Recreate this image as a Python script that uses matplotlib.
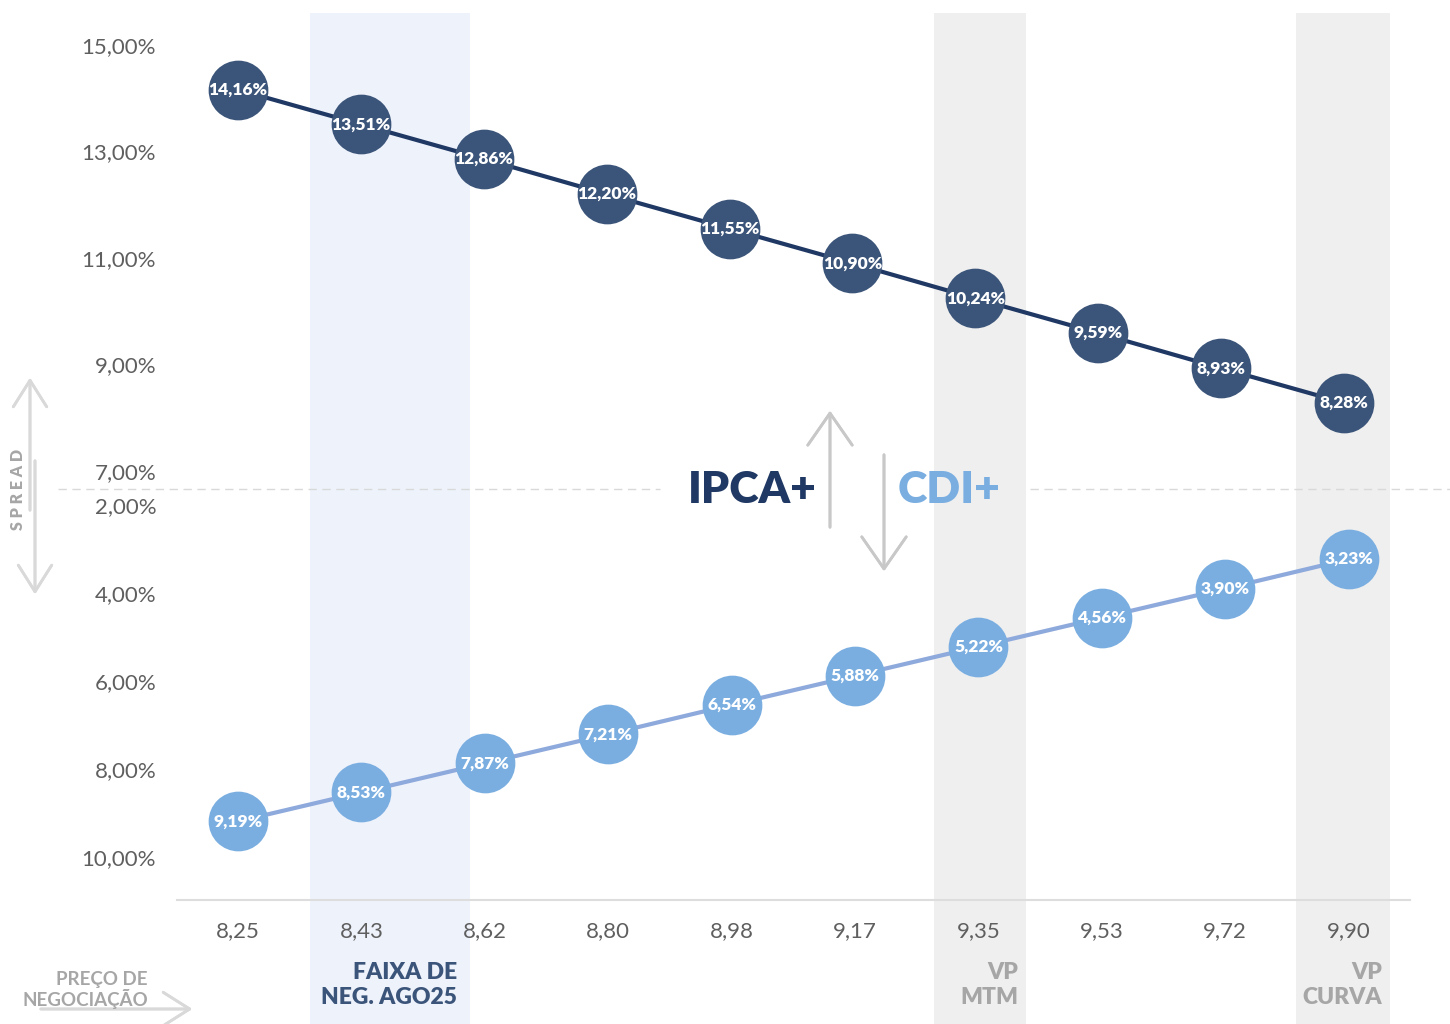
import matplotlib.pyplot as plt
import matplotlib.transforms as mtransforms
from matplotlib.patches import Rectangle
from matplotlib.lines import Line2D

plt.rcParams['font.family'] = ['Lato', 'DejaVu Sans']

precos = ['8,25', '8,43', '8,62', '8,80', '8,98', '9,17', '9,35', '9,53', '9,72', '9,90']
ipca = [14.16, 13.51, 12.86, 12.20, 11.55, 10.90, 10.24, 9.59, 8.93, 8.28]
cdi = [9.19, 8.53, 7.87, 7.21, 6.54, 5.88, 5.22, 4.56, 3.90, 3.23]
ipca_ticks = [7, 9, 11, 13, 15]
cdi_ticks = [2, 4, 6, 8, 10]

NAVY = '#1F3864'
DARK = '#3B5479'
LIGHT = '#7AAEE1'
LINE_LIGHT = '#8EA9DC'
GREY_TXT = '#A6A6A6'
TICK_TXT = '#5F5F5F'


def pct(v):
    return ('%.2f%%' % v).replace('.', ',')


fig = plt.figure(figsize=(14.5, 10.24), dpi=100)
W, H = 1450, 1024

ax_top = fig.add_axes([177 / W, 1 - 489 / H, 1233 / W, 476 / H])
ax_bot = fig.add_axes([177 / W, 1 - 900 / H, 1233 / W, 411 / H])
for ax in (ax_top, ax_bot):
    ax.set_facecolor('none')
    for s in ax.spines.values():
        s.set_visible(False)
    ax.tick_params(length=0, labelsize=16, labelcolor=TICK_TXT, pad=15)

x = list(range(len(precos)))

# IPCA+
ax_top.plot(x, ipca, color=NAVY, lw=3, zorder=2)
ax_top.plot(x, ipca, 'o', ms=43, color=DARK, mec='none', zorder=3)
for xi, v in zip(x, ipca):
    ax_top.text(xi, v, pct(v), ha='center', va='center', color='white',
                fontsize=12.5, fontweight='heavy', zorder=4)
ax_top.set_xlim(-0.496, 9.536)
ax_top.set_ylim(6.662, 15.60)
ax_top.set_yticks(ipca_ticks)
ax_top.set_yticklabels([pct(t) for t in ipca_ticks])
ax_top.set_xticks([])

# CDI+
ax_bot.plot(x, cdi, color=LINE_LIGHT, lw=3, zorder=2)
ax_bot.plot(x, cdi, 'o', ms=43, color=LIGHT, mec='none', zorder=3)
for xi, v in zip(x, cdi):
    ax_bot.text(xi, v, pct(v), ha='center', va='center', color='white',
                fontsize=12.5, fontweight='heavy', zorder=4)
ax_bot.set_xlim(-0.494, 9.497)
ax_bot.set_ylim(10.977, 1.636)
ax_bot.set_yticks(cdi_ticks)
ax_bot.set_yticklabels([pct(t) for t in cdi_ticks])
ax_bot.set_xticks(x)
ax_bot.set_xticklabels(precos)
ax_bot.tick_params(axis='x', pad=15)
ax_bot.spines['bottom'].set_visible(True)
ax_bot.spines['bottom'].set_color('#DDDDDD')
ax_bot.spines['bottom'].set_linewidth(1.5)

# faixas sombreadas
trans = mtransforms.blended_transform_factory(ax_bot.transData, fig.transFigure)
bands = [(0.583, 1.88, '#EEF2FB'), (5.64, 6.386, '#EFEFEF'), (8.574, 9.335, '#EFEFEF')]
for x0, x1, c in bands:
    fig.patches.append(Rectangle((x0, 0), x1 - x0, 1 - 13 / H, transform=trans,
                                 facecolor=c, edgecolor='none', zorder=-1))

# linha tracejada divisoria
for x0, x1 in [(58, 660), (1030, 1450)]:
    fig.lines.append(Line2D([x0 / W, x1 / W], [1 - 489 / H] * 2, transform=fig.transFigure,
                            color='#D9D9D9', lw=1, ls=(0, (6, 4)), zorder=1))

fig.text(752 / W, 1 - 490 / H, 'IPCA+', ha='center', va='center', color=NAVY,
         fontsize=32, fontweight='heavy')
fig.text(949 / W, 1 - 490 / H, 'CDI+', ha='center', va='center', color=LIGHT,
         fontsize=32, fontweight='heavy')

arrow = dict(arrowstyle='->,head_length=2.3,head_width=1.6', color='#C8C8C8', lw=2)
fig.add_artist(plt.annotate('', xy=(830 / W, 1 - 408 / H), xytext=(830 / W, 1 - 530 / H),
                            xycoords='figure fraction', arrowprops=arrow))
fig.add_artist(plt.annotate('', xy=(884 / W, 1 - 574 / H), xytext=(884 / W, 1 - 452 / H),
                            xycoords='figure fraction', arrowprops=arrow))

# SPREAD
arrow2 = dict(arrowstyle='->,head_length=1.9,head_width=1.2', color='#D9D9D9', lw=2)
fig.add_artist(plt.annotate('', xy=(30 / W, 1 - 375 / H), xytext=(30 / W, 1 - 513 / H),
                            xycoords='figure fraction', arrowprops=arrow2))
fig.add_artist(plt.annotate('', xy=(35 / W, 1 - 597 / H), xytext=(35 / W, 1 - 458 / H),
                            xycoords='figure fraction', arrowprops=arrow2))
fig.text(18 / W, 1 - 489 / H, 'S P R E A D', rotation=90, ha='center', va='center',
         color=GREY_TXT, fontsize=11.5, fontweight='heavy')

# rodape
fig.text(148 / W, 1 - 990 / H, 'PREÇO DE\nNEGOCIAÇÃO', ha='right', va='center',
         color=GREY_TXT, fontsize=13.5, fontweight='bold', linespacing=1.05)
fig.add_artist(plt.annotate('', xy=(195 / W, 1 - 1009 / H), xytext=(38 / W, 1 - 1009 / H),
                            xycoords='figure fraction', arrowprops=arrow2))
fig.text(457 / W, 1 - 985 / H, 'FAIXA DE\nNEG. AGO25', ha='right', va='center',
         color=DARK, fontsize=16.5, fontweight='heavy', linespacing=1.25)
fig.text(1018 / W, 1 - 985 / H, 'VP\nMTM', ha='right', va='center',
         color=GREY_TXT, fontsize=16.5, fontweight='heavy', linespacing=1.25)
fig.text(1382 / W, 1 - 985 / H, 'VP\nCURVA', ha='right', va='center',
         color=GREY_TXT, fontsize=16.5, fontweight='heavy', linespacing=1.25)

fig.savefig('out.png', dpi=100)
